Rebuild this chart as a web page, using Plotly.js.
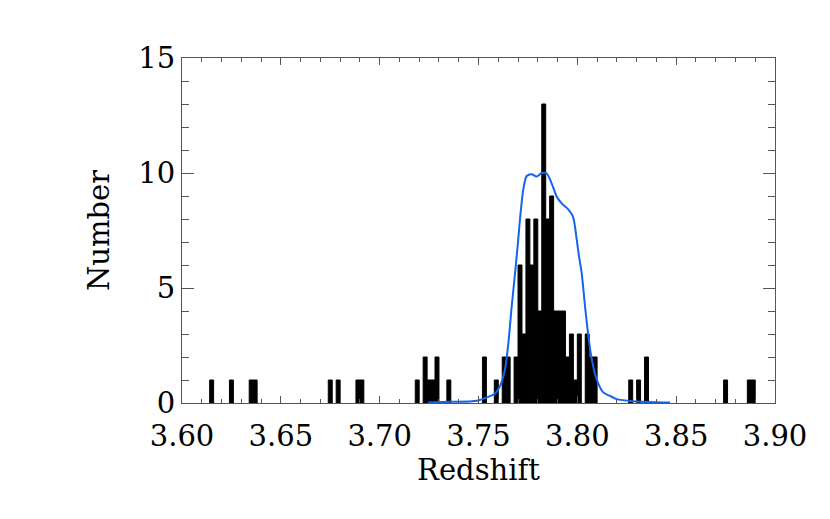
<!DOCTYPE html>
<html>
<head>
<meta charset="utf-8">
<script src="https://cdn.plot.ly/plotly-3.0.1.min.js"></script>
<style>
  html, body { margin: 0; padding: 0; background: #ffffff; }
  #chart { width: 830px; height: 519px; }
</style>
</head>
<body>
<div id="chart"></div>
<script>
// Histogram bins (left edges, bin width 0.002) and their counts
const binLeft = [
  3.614, 3.624, 3.634, 3.636, 3.674, 3.678, 3.688, 3.690,
  3.718, 3.722, 3.724, 3.726, 3.728, 3.734, 3.752, 3.758,
  3.762, 3.764, 3.768, 3.770, 3.772, 3.774, 3.776, 3.778,
  3.780, 3.782, 3.784, 3.786, 3.788, 3.790, 3.792, 3.794,
  3.796, 3.798, 3.800, 3.804, 3.806, 3.808, 3.826, 3.830,
  3.834, 3.874, 3.886, 3.888
];
const binCounts = [
  1, 1, 1, 1, 1, 1, 1, 1,
  1, 2, 1, 1, 2, 1, 2, 1,
  2, 2, 2, 6, 3, 8, 6, 8,
  4, 13, 8, 9, 4, 4, 4, 2,
  3, 1, 3, 3, 2, 2, 1, 1,
  2, 1, 1, 1
];
const binWidth = 0.002;

// Smooth distribution curve (blue)
const curveZ = [
  3.7245, 3.7356, 3.7492, 3.7558, 3.7583, 3.7609, 3.7634, 3.7651,
  3.7668, 3.7685, 3.7701, 3.7710, 3.7727, 3.7744, 3.7769, 3.7794,
  3.7820, 3.7845, 3.7870, 3.7896, 3.7921, 3.7954, 3.7978, 3.7997,
  3.8008, 3.8022, 3.8039, 3.8056, 3.8073, 3.8098, 3.8131, 3.8165,
  3.8199, 3.8282, 3.8469
];
const curveN = [
  0.02, 0.05, 0.10, 0.30, 0.40, 0.74, 1.47, 2.60,
  4.20, 5.65, 7.10, 8.00, 9.30, 9.87, 9.95, 9.85,
  10.00, 9.98, 9.55, 8.97, 8.68, 8.42, 8.10, 7.10,
  6.40, 5.65, 4.20, 2.90, 1.90, 1.03, 0.46, 0.31,
  0.17, 0.08, 0.02
];

const axisColor = '#555555';
const font = { family: 'DejaVu Serif', size: 29, color: '#000000' };

Plotly.newPlot('chart', [
  {
    type: 'bar',
    x: binLeft,
    y: binCounts,
    width: binWidth,
    offset: 0,
    marker: { color: '#000000', line: { color: '#000000', width: 1 } },
    hoverinfo: 'x+y',
  },
  {
    type: 'scatter',
    mode: 'lines',
    x: curveZ,
    y: curveN,
    line: { color: '#1464f0', width: 2, shape: 'spline', smoothing: 0.8 },
    hoverinfo: 'skip',
  },
], {
  width: 830,
  height: 519,
  showlegend: false,
  font: font,
  margin: { l: 182, r: 55, t: 58, b: 116 },
  paper_bgcolor: '#ffffff',
  plot_bgcolor: '#ffffff',
  xaxis: {
    range: [3.6, 3.9],
    tick0: 3.6,
    dtick: 0.05,
    tickformat: '.2f',
    ticks: 'inside',
    ticklen: 7,
    tickcolor: axisColor,
    minor: { dtick: 0.01, ticks: 'inside', ticklen: 4, tickcolor: axisColor },
    showline: true,
    linecolor: axisColor,
    linewidth: 1,
    mirror: 'ticks',
    showgrid: false,
    zeroline: false,
    ticklabelstandoff: 7,
    title: { text: 'Redshift', font: font, standoff: 4 },
  },
  yaxis: {
    range: [0, 15],
    tick0: 0,
    dtick: 5,
    ticks: 'inside',
    ticklen: 12,
    tickcolor: axisColor,
    minor: { dtick: 1, ticks: 'inside', ticklen: 7, tickcolor: axisColor },
    showline: true,
    linecolor: axisColor,
    linewidth: 1,
    mirror: 'ticks',
    showgrid: false,
    zeroline: false,
    title: { text: 'Number', font: font, standoff: 20 },
  },
}, { displayModeBar: false });
</script>
</body>
</html>
